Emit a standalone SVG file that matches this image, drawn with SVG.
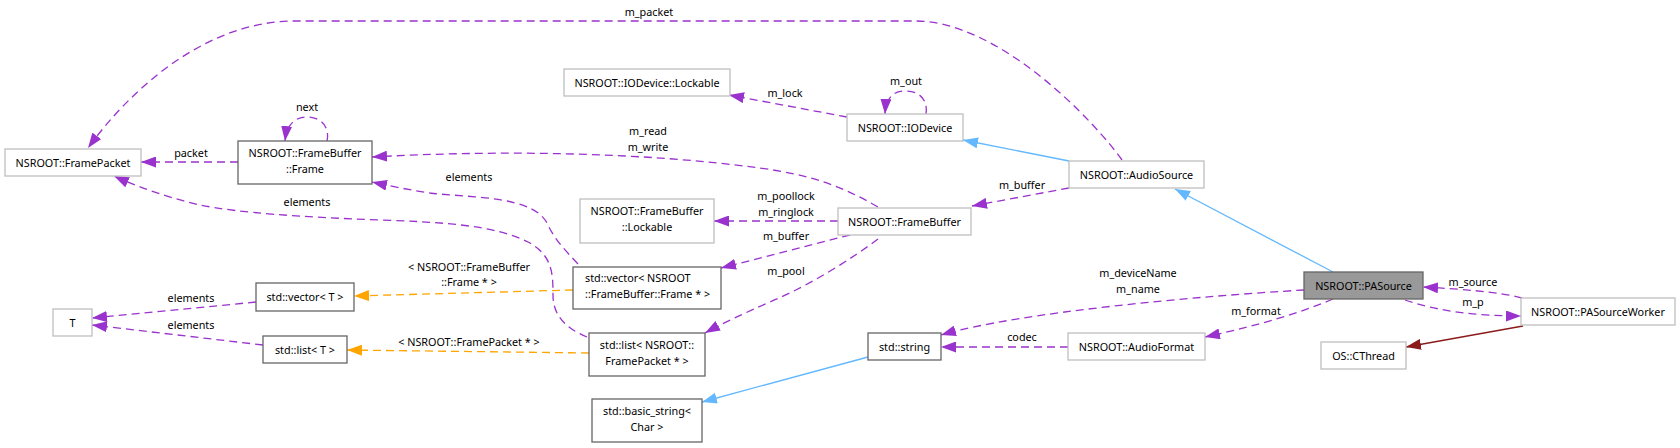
<svg xmlns="http://www.w3.org/2000/svg" width="1680" height="448" viewBox="0 0 1680 448">
<style>
text{font-family:"Noto Sans","DejaVu Sans",sans-serif;font-size:10.8px;fill:#000;text-anchor:middle}
.n rect{fill:#fff;stroke:#bfbfbf;stroke-width:1.3}
.d rect{stroke:#666}
.cur rect{fill:#999;stroke:#666}
.e path{fill:none;stroke-width:1.3}
.u{stroke:#9a32cd;stroke-dasharray:8,5;marker-end:url(#mu)}
.t{stroke:#ffa500;stroke-dasharray:8,5;marker-end:url(#mt)}
.i{stroke:#63b8ff;marker-end:url(#mi)}
.p{stroke:#8b1a1a;marker-end:url(#mp)}
</style>
<defs>
<marker id="mu" markerUnits="userSpaceOnUse" viewBox="0 0 15 11" refX="15" refY="5.5" markerWidth="15" markerHeight="11" orient="auto"><path d="M0,0L15,5.5L0,11z" fill="#9a32cd"/></marker>
<marker id="mt" markerUnits="userSpaceOnUse" viewBox="0 0 15 11" refX="15" refY="5.5" markerWidth="15" markerHeight="11" orient="auto"><path d="M0,0L15,5.5L0,11z" fill="#ffa500"/></marker>
<marker id="mi" markerUnits="userSpaceOnUse" viewBox="0 0 15 11" refX="15" refY="5.5" markerWidth="15" markerHeight="11" orient="auto"><path d="M0,0L15,5.5L0,11z" fill="#63b8ff"/></marker>
<marker id="mp" markerUnits="userSpaceOnUse" viewBox="0 0 15 11" refX="15" refY="5.5" markerWidth="15" markerHeight="11" orient="auto"><path d="M0,0L15,5.5L0,11z" fill="#8b1a1a"/></marker>
</defs>
<rect width="1680" height="448" fill="#fff"/>
<g id="connectors" class="e">
<path class="u" d="M1122,160 C1095,122 1000,21 915,21 L295,21 C205,21 130,90 88,148"/>
<path class="u" d="M238,162 L141,162"/>
<path class="u" d="M327,141 C330,128 322,117 307,117 C296,117 287,123 285,141"/>
<path class="u" d="M878,207 C840,185 810,175 760,168 C640,152 500,150 372,157"/>
<path class="u" d="M578,264 C565,250 555,240 548,225 C535,195 470,198 430,193 C410,190 390,186 372,182"/>
<path class="u" d="M587,337 C565,328 553,315 553,295 C553,275 553,255 528,242 C495,225 440,222 380,220 C300,217 240,213 200,205 C170,198 140,188 114,176"/>
<path class="u" d="M256,302 L92,318"/>
<path class="u" d="M263,345 L92,325"/>
<path class="t" d="M573,290 L354,296"/>
<path class="t" d="M589,353 L347,350"/>
<path class="u" d="M838,221 L714,221"/>
<path class="u" d="M850,235 L721,268"/>
<path class="u" d="M878,239 C850,260 810,285 770,302 C745,313 725,322 705,333"/>
<path class="u" d="M1069,188 L972,206"/>
<path class="i" d="M1069,161 L963,140"/>
<path class="u" d="M847,117 L729,95"/>
<path class="u" d="M926,114 C928,100 920,91 905,91 C893,91 886,98 885,114"/>
<path class="i" d="M1333,272 L1175,189"/>
<path class="u" d="M1304,290 C1200,296 1020,312 941,335"/>
<path class="u" d="M1333,299 C1300,313 1260,325 1205,337"/>
<path class="u" d="M1068,347 L941,347"/>
<path class="i" d="M868,357 L702,402"/>
<path class="u" d="M1522,298 C1500,292 1460,289 1423,287"/>
<path class="u" d="M1405,300 C1440,312 1480,316 1521,316"/>
<path class="p" d="M1523,326 L1406,347"/>
<text x="649" y="16">m_packet</text>
<text x="191" y="157">packet</text>
<text x="307" y="111">next</text>
<text x="648" y="135">m_read</text>
<text x="648" y="151">m_write</text>
<text x="469" y="181">elements</text>
<text x="307" y="206">elements</text>
<text x="191" y="302">elements</text>
<text x="191" y="329">elements</text>
<text x="469" y="271">&lt; NSROOT::FrameBuffer</text>
<text x="469" y="286">::Frame * &gt;</text>
<text x="469" y="346">&lt; NSROOT::FramePacket * &gt;</text>
<text x="786" y="200">m_poollock</text>
<text x="786" y="216">m_ringlock</text>
<text x="786" y="240">m_buffer</text>
<text x="786" y="275">m_pool</text>
<text x="1022" y="189">m_buffer</text>
<text x="785" y="97">m_lock</text>
<text x="906" y="85">m_out</text>
<text x="1138" y="277">m_deviceName</text>
<text x="1138" y="293">m_name</text>
<text x="1256" y="315">m_format</text>
<text x="1022" y="341">codec</text>
<text x="1473" y="286">m_source</text>
<text x="1473" y="306">m_p</text>
</g>
<g id="PASource" class="n cur"><rect x="1304" y="272" width="119" height="27"/><text x="1363.5" y="289.5">NSROOT::PASource</text></g>
<g id="AudioSource" class="n"><rect x="1069" y="161" width="135" height="27"/><text x="1136.5" y="178.5">NSROOT::AudioSource</text></g>
<g id="FramePacket" class="n"><rect x="5" y="149" width="136" height="27"/><text x="73" y="166.5">NSROOT::FramePacket</text></g>
<g id="FrameBufferFrame" class="n d"><rect x="238" y="141" width="134" height="43"/><text x="305" y="157">NSROOT::FrameBuffer</text><text x="305" y="173">::Frame</text></g>
<g id="FrameBuffer" class="n"><rect x="838" y="208" width="133" height="27"/><text x="904.5" y="225.5">NSROOT::FrameBuffer</text></g>
<g id="FrameBufferLockable" class="n"><rect x="580" y="199" width="134" height="44"/><text x="647" y="215">NSROOT::FrameBuffer</text><text x="647" y="231">::Lockable</text></g>
<g id="vectorFrame" class="n d"><rect x="573" y="267" width="148" height="42"/><text x="585" y="282" style="text-anchor:start">std::vector&lt; NSROOT</text><text x="585" y="298" style="text-anchor:start">::FrameBuffer::Frame * &gt;</text></g>
<g id="listFramePacket" class="n d"><rect x="589" y="333" width="116" height="43"/><text x="647" y="349">std::list&lt; NSROOT::</text><text x="647" y="365">FramePacket * &gt;</text></g>
<g id="vectorT" class="n d"><rect x="256" y="283" width="98" height="28"/><text x="305" y="300.5">std::vector&lt; T &gt;</text></g>
<g id="listT" class="n d"><rect x="263" y="336" width="84" height="27"/><text x="305" y="353.5">std::list&lt; T &gt;</text></g>
<g id="T" class="n"><rect x="53" y="309" width="39" height="27"/><text x="72.5" y="326.5">T</text></g>
<g id="IODevice" class="n"><rect x="847" y="114" width="116" height="27"/><text x="905" y="131.5">NSROOT::IODevice</text></g>
<g id="IODeviceLockable" class="n"><rect x="564" y="69" width="166" height="27"/><text x="647" y="86.5">NSROOT::IODevice::Lockable</text></g>
<g id="string" class="n d"><rect x="868" y="333" width="73" height="27"/><text x="904.5" y="350.5">std::string</text></g>
<g id="basic_string" class="n d"><rect x="592" y="399" width="110" height="43"/><text x="647" y="415">std::basic_string&lt;</text><text x="647" y="431">Char &gt;</text></g>
<g id="AudioFormat" class="n"><rect x="1068" y="333" width="137" height="27"/><text x="1136.5" y="350.5">NSROOT::AudioFormat</text></g>
<g id="PASourceWorker" class="n"><rect x="1521" y="298" width="154" height="27"/><text x="1598" y="315.5">NSROOT::PASourceWorker</text></g>
<g id="CThread" class="n"><rect x="1321" y="342" width="85" height="27"/><text x="1363.5" y="359.5">OS::CThread</text></g>
</svg>
